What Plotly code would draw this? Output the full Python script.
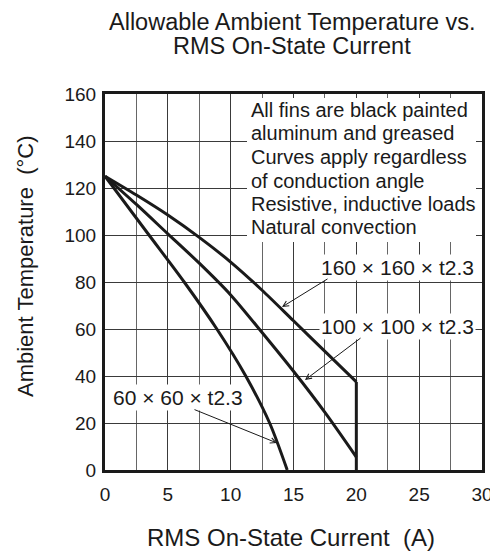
import plotly.graph_objects as go

# ---------------- data ----------------
CUR_160 = [0, 2.5, 5, 7.5, 10, 12.5, 15, 17.5, 20]
TEMP_160 = [125, 117, 108.5, 99, 88.5, 76.5, 63.5, 50.5, 37.5]

CUR_100 = [0, 2.5, 5, 7.5, 10, 12.5, 15, 17.5, 20]
TEMP_100 = [125, 113, 100.5, 88, 74.5, 58.5, 42, 24.5, 5.5]

CUR_60 = [0, 3.5, 6.3, 8.9, 11.2, 13.1, 14.5]
TEMP_60 = [125, 100, 80, 60, 40, 20, 0]

CUTOFF_X = [20, 20]
CUTOFF_Y = [37.5, 0]

LABEL_160 = "160 × 160 × t2.3"
LABEL_100 = "100 × 100 × t2.3"
LABEL_60 = "60 × 60 × t2.3"

NOTES = [
    "All fins are black painted",
    "aluminum and greased",
    "Curves apply regardless",
    "of conduction angle",
    "Resistive, inductive loads",
    "Natural convection",
]

X_TICKS = [0, 5, 10, 15, 20, 25, 30]
X_MINOR = [2.5, 7.5, 12.5, 17.5, 22.5, 27.5]
Y_TICKS = [0, 20, 40, 60, 80, 100, 120, 140, 160]

# ---------------- layout geometry ----------------
# page body has an 8px margin, so the figure starts at (8, 8) in the window
OFF = 8
W, H = 498 - OFF, 553 - OFF
PL, PR, PT, PB = 105, 482, 94, 470          # plot box in window pixels
ML, MR, MT, MB = PL - OFF, 498 - PR, PT - OFF, 553 - PB
PW = PR - PL
PH = PB - PT
FONT = "Liberation Sans, Arial, Helvetica, sans-serif"
INK = "#1a1a1a"


def px(x, y):
    """window pixel -> paper coords"""
    return (x - PL) / PW, (PB - y) / PH


def dx(x):
    return (x - PL) / PW * 30


def dy(y):
    return (PB - y) / PH * 160


fig = go.Figure()

line = dict(color=INK, width=3)
for xs, ys in [(CUR_160, TEMP_160), (CUR_100, TEMP_100), (CUR_60, TEMP_60)]:
    fig.add_trace(go.Scatter(x=xs, y=ys, mode="lines",
                             line=dict(shape="spline", smoothing=0.8, **line)))
fig.add_trace(go.Scatter(x=CUTOFF_X, y=CUTOFF_Y, mode="lines", line=line))

annotations = []

# title (two lines)
for txt, yy in [("Allowable Ambient Temperature vs.", 22),
                ("RMS On-State Current", 46)]:
    xp, yp = px(292, yy)
    annotations.append(dict(text=txt, x=xp, y=yp, xref="paper", yref="paper",
                            xanchor="center", yanchor="middle", showarrow=False,
                            font=dict(family=FONT, size=23.5, color=INK)))

# axis titles
xp, yp = px(291, 537)
annotations.append(dict(text="RMS On-State Current  (A)", x=xp, y=yp,
                        xref="paper", yref="paper", xanchor="center",
                        yanchor="middle", showarrow=False,
                        font=dict(family=FONT, size=24, color=INK)))
xp, yp = px(25, 266)
annotations.append(dict(text="Ambient Temperature  (°C)", x=xp, y=yp,
                        xref="paper", yref="paper", xanchor="center",
                        yanchor="middle", showarrow=False, textangle=-90,
                        font=dict(family=FONT, size=22, color=INK)))

# notes block
for i, t in enumerate(NOTES):
    xp, yp = px(249, 110 + i * 23.5)
    annotations.append(dict(text=t, x=xp, y=yp, xref="paper", yref="paper",
                            xanchor="left", yanchor="middle", showarrow=False,
                            font=dict(family=FONT, size=20, color=INK)))

# curve labels
for t, cx, cy in [(LABEL_160, 397, 267), (LABEL_100, 397, 326), (LABEL_60, 178, 397)]:
    xp, yp = px(cx, cy)
    annotations.append(dict(text=t, x=xp, y=yp, xref="paper", yref="paper",
                            xanchor="center", yanchor="middle", showarrow=False,
                            bgcolor="white", borderpad=1,
                            font=dict(family=FONT, size=21, color=INK)))

# arrows (tail -> head), window pixel positions
for (tx, ty), (hx, hy) in [((329, 278), (282, 307)),
                           ((362, 337), (305, 380)),
                           ((193, 409), (277, 443))]:
    annotations.append(dict(text="", x=dx(hx), y=dy(hy), ax=dx(tx), ay=dy(ty),
                            xref="x", yref="y", axref="x", ayref="y",
                            showarrow=True, arrowhead=5, arrowsize=1.1,
                            arrowwidth=1, arrowcolor=INK))

shapes = [dict(type="rect", xref="x", yref="y", layer="above",
               x0=dx(247), x1=dx(476), y0=dy(242), y1=dy(98),
               fillcolor="white", line=dict(width=0))]

axis_common = dict(showline=True, mirror=True, linewidth=3, linecolor=INK,
                   ticks="outside", tickcolor="rgba(0,0,0,0)",
                   tickfont=dict(family=FONT, size=19, color=INK),
                   zeroline=False, fixedrange=True, automargin=False)

fig.update_layout(
    width=W, height=H,
    margin=dict(l=ML, r=MR, t=MT, b=MB, autoexpand=False),
    paper_bgcolor="white", plot_bgcolor="white",
    showlegend=False,
    xaxis=dict(range=[0, 30], tickvals=X_TICKS, showgrid=True, ticklen=5,
               gridcolor="#3a3a3a", gridwidth=1.3,
               minor=dict(tickvals=X_MINOR, showgrid=True,
                          gridcolor="#666", gridwidth=1.3),
               **axis_common),
    yaxis=dict(range=[0, 160], tickvals=Y_TICKS, showgrid=True, ticklen=2,
               gridcolor="#3a3a3a", gridwidth=1.3, **axis_common),
    annotations=annotations,
    shapes=shapes,
)

fig.write_html("out.html")
